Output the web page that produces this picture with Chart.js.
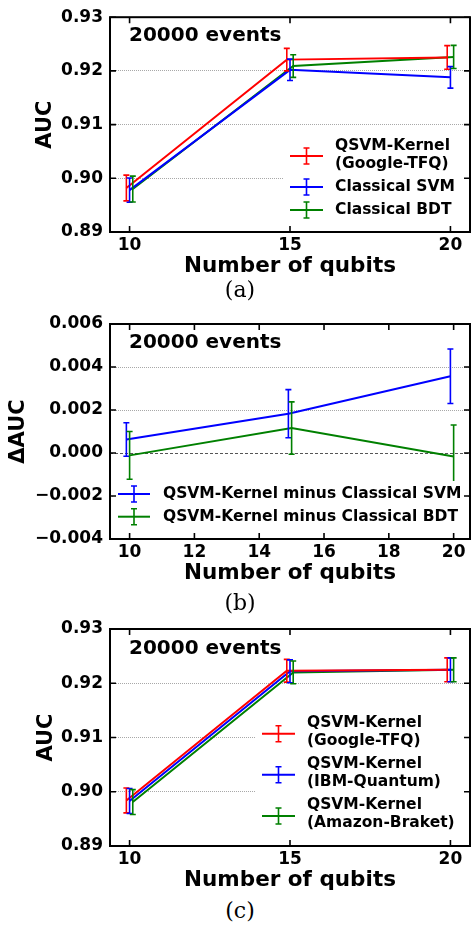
<!DOCTYPE html>
<html>
<head>
<meta charset="utf-8">
<script src="https://cdn.jsdelivr.net/npm/chart.js@4.4.1/dist/chart.umd.min.js"></script>
<style>
  html, body { margin: 0; padding: 0; background: #fff; width: 471px; height: 926px; overflow: hidden; }
  .panel { position: absolute; left: 0; width: 471px; }
  .cap { position: absolute; left: 190px; width: 100px; text-align: center;
         font-family: "DejaVu Serif", serif; font-size: 22px; line-height: 24px; color: #000; }
</style>
</head>
<body>
<div class="panel" style="top:0px;height:283px"><canvas id="cA" width="471" height="283"></canvas></div>
<div class="panel" style="top:300px;height:290px"><canvas id="cB" width="471" height="290"></canvas></div>
<div class="panel" style="top:610px;height:287px"><canvas id="cC" width="471" height="287"></canvas></div>
<div class="cap" style="top:278px">(a)</div>
<div class="cap" style="top:591px">(b)</div>
<div class="cap" style="top:899px">(c)</div>
<script>
// ---------------- DATA ----------------
const noteText = '20000 events';
const xTitle = 'Number of qubits';

// Panel (a)
const xTicksA = [10, 15, 20];
const yTicksAUC = [0.89, 0.90, 0.91, 0.92, 0.93];
const qubitsGoogle = [9.9, 14.9, 19.9];
const qubitsSVM = [10, 15, 20];
const qubitsBDT = [10.1, 15.1, 20.1];
const aucGoogle = [0.8982, 0.9221, 0.9225];
const errGoogle = [0.0024, 0.0021, 0.0022];
const aucSVM = [0.8978, 0.9202, 0.9188];
const errSVM = [0.00225, 0.0020, 0.0020];
const aucBDT = [0.8980, 0.9209, 0.9226];
const errBDT = [0.0024, 0.0021, 0.00215];
const labelsA = [['QSVM-Kernel', '(Google-TFQ)'], ['Classical SVM'], ['Classical BDT']];

// Panel (b)
const xTicksB = [10, 12, 14, 16, 18, 20];
const yTicksB = [-0.004, -0.002, 0, 0.002, 0.004, 0.006];
const qubitsDiffSVM = [9.9, 14.9, 19.9];
const qubitsDiffBDT = [10, 15, 20];
const diffSVM = [0.00063, 0.00183, 0.00357];
const diffSVMErr = [0.00078, 0.00112, 0.00127];
const diffBDT = [-0.00011, 0.00116, -0.00016];
const diffBDTErr = [0.00111, 0.00122, 0.00146];
const labelsB = [['QSVM-Kernel minus Classical SVM'], ['QSVM-Kernel minus Classical BDT']];

// Panel (c)
const xTicksC = [10, 15, 20];
const qubitsTFQ = [9.9, 14.9, 19.9];
const qubitsIBM = [10, 15, 20];
const qubitsAmazon = [10.1, 15.1, 20.1];
const aucTFQ = [0.8984, 0.9223, 0.92247];
const errTFQ = [0.0023, 0.0021, 0.0022];
const aucIBM = [0.8983, 0.9222, 0.92247];
const errIBM = [0.0023, 0.0021, 0.0022];
const aucAmazon = [0.8981, 0.9220, 0.92247];
const errAmazon = [0.0023, 0.0021, 0.0022];
const labelsC = [['QSVM-Kernel', '(Google-TFQ)'], ['QSVM-Kernel', '(IBM-Quantum)'], ['QSVM-Kernel', '(Amazon-Braket)']];

// ---------------- STYLE ----------------
const FONT = 'DejaVu Sans';
const RED = '#ff0000', BLUE = '#0000ff', GREEN = '#008000';
Chart.defaults.font.family = FONT;
Chart.defaults.color = '#000';

function pts(xs, ys) { return xs.map((x, i) => ({ x: x, y: ys[i] })); }
function series(label, xs, ys, errs, color) {
  return { label: label.join(' '), data: pts(xs, ys), errors: errs, borderColor: color, backgroundColor: color,
           borderWidth: 2, pointRadius: 0, pointHoverRadius: 0, tension: 0, fill: false };
}

const errorBarPlugin = {
  id: 'errorBars',
  afterDatasetsDraw(chart) {
    const { ctx, chartArea: a } = chart;
    const xs = chart.scales.x, ys = chart.scales.y;
    ctx.save();
    ctx.beginPath(); ctx.rect(a.left, a.top, a.right - a.left, a.bottom - a.top); ctx.clip();
    chart.data.datasets.forEach(ds => {
      if (!ds.errors) return;
      ctx.strokeStyle = ds.borderColor; ctx.lineWidth = 1.6;
      ds.data.forEach((p, j) => {
        const px = xs.getPixelForValue(p.x);
        const t = ys.getPixelForValue(p.y + ds.errors[j]);
        const b = ys.getPixelForValue(p.y - ds.errors[j]);
        ctx.beginPath();
        ctx.moveTo(px, t); ctx.lineTo(px, b);
        ctx.moveTo(px - 3, t); ctx.lineTo(px + 3, t);
        ctx.moveTo(px - 3, b); ctx.lineTo(px + 3, b);
        ctx.stroke();
      });
    });
    ctx.restore();
  }
};

const decorPlugin = {
  id: 'decor',
  afterDraw(chart, args, opts) {
    const { ctx, chartArea: a } = chart;
    ctx.save();
    // annotation
    if (opts.note) {
      ctx.font = 'bold 20px "' + FONT + '"';
      ctx.fillStyle = '#000'; ctx.textAlign = 'left'; ctx.textBaseline = 'middle';
      ctx.fillText(opts.note.text, opts.note.x, opts.note.y);
    }
    // legend
    const L = opts.legend;
    if (L) {
      ctx.fillStyle = '#fff';
      ctx.fillRect(L.box[0], L.box[1], L.box[2] - L.box[0], L.box[3] - L.box[1]);
      L.items.forEach((it, k) => {
        const ds = chart.data.datasets[k];
        const mx = (L.x0 + L.x1) / 2;
        ctx.strokeStyle = ds.borderColor;
        ctx.lineWidth = 2;
        ctx.beginPath(); ctx.moveTo(L.x0, it.y); ctx.lineTo(L.x1, it.y); ctx.stroke();
        ctx.lineWidth = 1.6;
        ctx.beginPath();
        ctx.moveTo(mx, it.y - L.h); ctx.lineTo(mx, it.y + L.h);
        ctx.moveTo(mx - 3, it.y - L.h); ctx.lineTo(mx + 3, it.y - L.h);
        ctx.moveTo(mx - 3, it.y + L.h); ctx.lineTo(mx + 3, it.y + L.h);
        ctx.stroke();
        ctx.font = 'bold 15.5px "' + FONT + '"';
        ctx.fillStyle = '#000'; ctx.textAlign = 'left'; ctx.textBaseline = 'middle';
        L.labels[k].forEach((line, m) => ctx.fillText(line, L.tx, it.ty[m]));
      });
    }
    // frame
    ctx.strokeStyle = '#000'; ctx.lineWidth = 2;
    ctx.strokeRect(a.left, a.top, a.right - a.left, a.bottom - a.top);
    // inward ticks on all four sides
    ctx.lineWidth = 1.6;
    const TL = 6;
    const xs = chart.scales.x, ys = chart.scales.y;
    ctx.beginPath();
    xs.ticks.forEach(t => {
      const px = xs.getPixelForValue(t.value);
      ctx.moveTo(px, a.bottom); ctx.lineTo(px, a.bottom - TL);
      ctx.moveTo(px, a.top); ctx.lineTo(px, a.top + TL);
    });
    ys.ticks.forEach(t => {
      const py = ys.getPixelForValue(t.value);
      ctx.moveTo(a.left, py); ctx.lineTo(a.left + TL, py);
      ctx.moveTo(a.right, py); ctx.lineTo(a.right - TL, py);
    });
    ctx.stroke();
    ctx.restore();
  }
};

function makeChart(id, cfg) {
  const H = document.getElementById(id).height;
  const yT = cfg.yTicks, xT = cfg.xTicks;
  const yMin = yT[0], yMax = yT[yT.length - 1];
  return new Chart(document.getElementById(id), {
    type: 'line',
    data: { datasets: cfg.datasets },
    plugins: [errorBarPlugin, decorPlugin],
    options: {
      responsive: false, animation: false, devicePixelRatio: 1,
      events: [],
      layout: { padding: { left: 0, right: 1, top: cfg.top, bottom: 0 } },
      plugins: {
        legend: { display: false }, tooltip: { enabled: false },
        decor: { note: cfg.note, legend: cfg.legend }
      },
      scales: {
        x: {
          type: 'linear', position: 'bottom', min: cfg.xMin, max: cfg.xMax,
          afterBuildTicks: s => { s.ticks = xT.map(v => ({ value: v })); },
          afterFit: s => { s.height = H - cfg.bottom; },
          grid: { display: false, drawTicks: false },
          border: { display: false },
          ticks: { autoSkip: false, maxRotation: 0, padding: 3, font: { size: 17, weight: 'bold' },
                   callback: v => String(v) },
          title: { display: true, text: xTitle, font: { size: 21.5, weight: 'bold', lineHeight: 1.2 },
                   padding: { top: 0, bottom: 4 } }
        },
        y: {
          type: 'linear', position: 'left', min: yMin, max: yMax,
          afterBuildTicks: s => { s.ticks = yT.map(v => ({ value: v })); },
          afterFit: s => { s.width = 110; },
          grid: {
            drawTicks: false, lineWidth: 1,
            color: c => {
              const v = c.tick ? c.tick.value : null;
              if (v === yMin || v === yMax) return 'rgba(0,0,0,0)';
              if (cfg.zeroLine && v === 0) return '#555555';
              return '#a8a8a8';
            }
          },
          border: { display: false, dash: c => (cfg.zeroLine && c.tick && c.tick.value === 0) ? [3, 2] : [1, 1] },
          ticks: { autoSkip: false, padding: 7, font: { size: 17, weight: 'bold' }, callback: cfg.yFmt },
          title: { display: true, text: cfg.yTitle, font: { size: 21, weight: 'bold', lineHeight: 1.2 },
                   padding: { top: cfg.yTitlePad, bottom: 0 } }
        }
      }
    }
  });
}

// Panel (a)
makeChart('cA', {
  top: 16, bottom: 232, xMin: 9.39, xMax: 20.61, xTicks: xTicksA, yTicks: yTicksAUC,
  yTitle: 'AUC', yTitlePad: 33.4, yFmt: v => v.toFixed(2),
  datasets: [
    series(labelsA[0], qubitsGoogle, aucGoogle, errGoogle, RED),
    series(labelsA[1], qubitsSVM, aucSVM, errSVM, BLUE),
    series(labelsA[2], qubitsBDT, aucBDT, errBDT, GREEN)
  ],
  note: { text: noteText, x: 129, y: 36 },
  legend: { box: [283, 131, 468, 224], x0: 290, x1: 323, h: 8, tx: 335, labels: labelsA,
            items: [{ y: 156, ty: [146, 164] }, { y: 187, ty: [187] }, { y: 210, ty: [210] }] }
});

// Panel (b)
makeChart('cB', {
  top: 24, bottom: 239, xMin: 9.395, xMax: 20.505, xTicks: xTicksB, yTicks: yTicksB, zeroLine: true,
  yTitle: 'ΔAUC', yTitlePad: 5.7,
  yFmt: v => (v === 0 ? '0.000' : v.toFixed(3).replace('-', '\u2212')),
  datasets: [
    series(labelsB[0], qubitsDiffSVM, diffSVM, diffSVMErr, BLUE),
    series(labelsB[1], qubitsDiffBDT, diffBDT, diffBDTErr, GREEN)
  ],
  note: { text: noteText, x: 129, y: 42.7 },
  legend: { box: [113, 181, 468, 237], x0: 118, x1: 150, h: 8, tx: 163, labels: labelsB,
            items: [{ y: 194, ty: [194] }, { y: 216.7, ty: [216.7] }] }
});

// Panel (c)
makeChart('cC', {
  top: 19, bottom: 236, xMin: 9.39, xMax: 20.61, xTicks: xTicksC, yTicks: yTicksAUC,
  yTitle: 'AUC', yTitlePad: 34, yFmt: v => v.toFixed(2),
  datasets: [
    series(labelsC[0], qubitsTFQ, aucTFQ, errTFQ, RED),
    series(labelsC[1], qubitsIBM, aucIBM, errIBM, BLUE),
    series(labelsC[2], qubitsAmazon, aucAmazon, errAmazon, GREEN)
  ],
  note: { text: noteText, x: 129, y: 39 },
  legend: { box: [255, 98, 468, 228], x0: 262, x1: 295, h: 8, tx: 307, labels: labelsC,
            items: [{ y: 123.7, ty: [113, 131] }, { y: 164.7, ty: [154, 171.7] }, { y: 206, ty: [195, 213] }] }
});
</script>
</body>
</html>
